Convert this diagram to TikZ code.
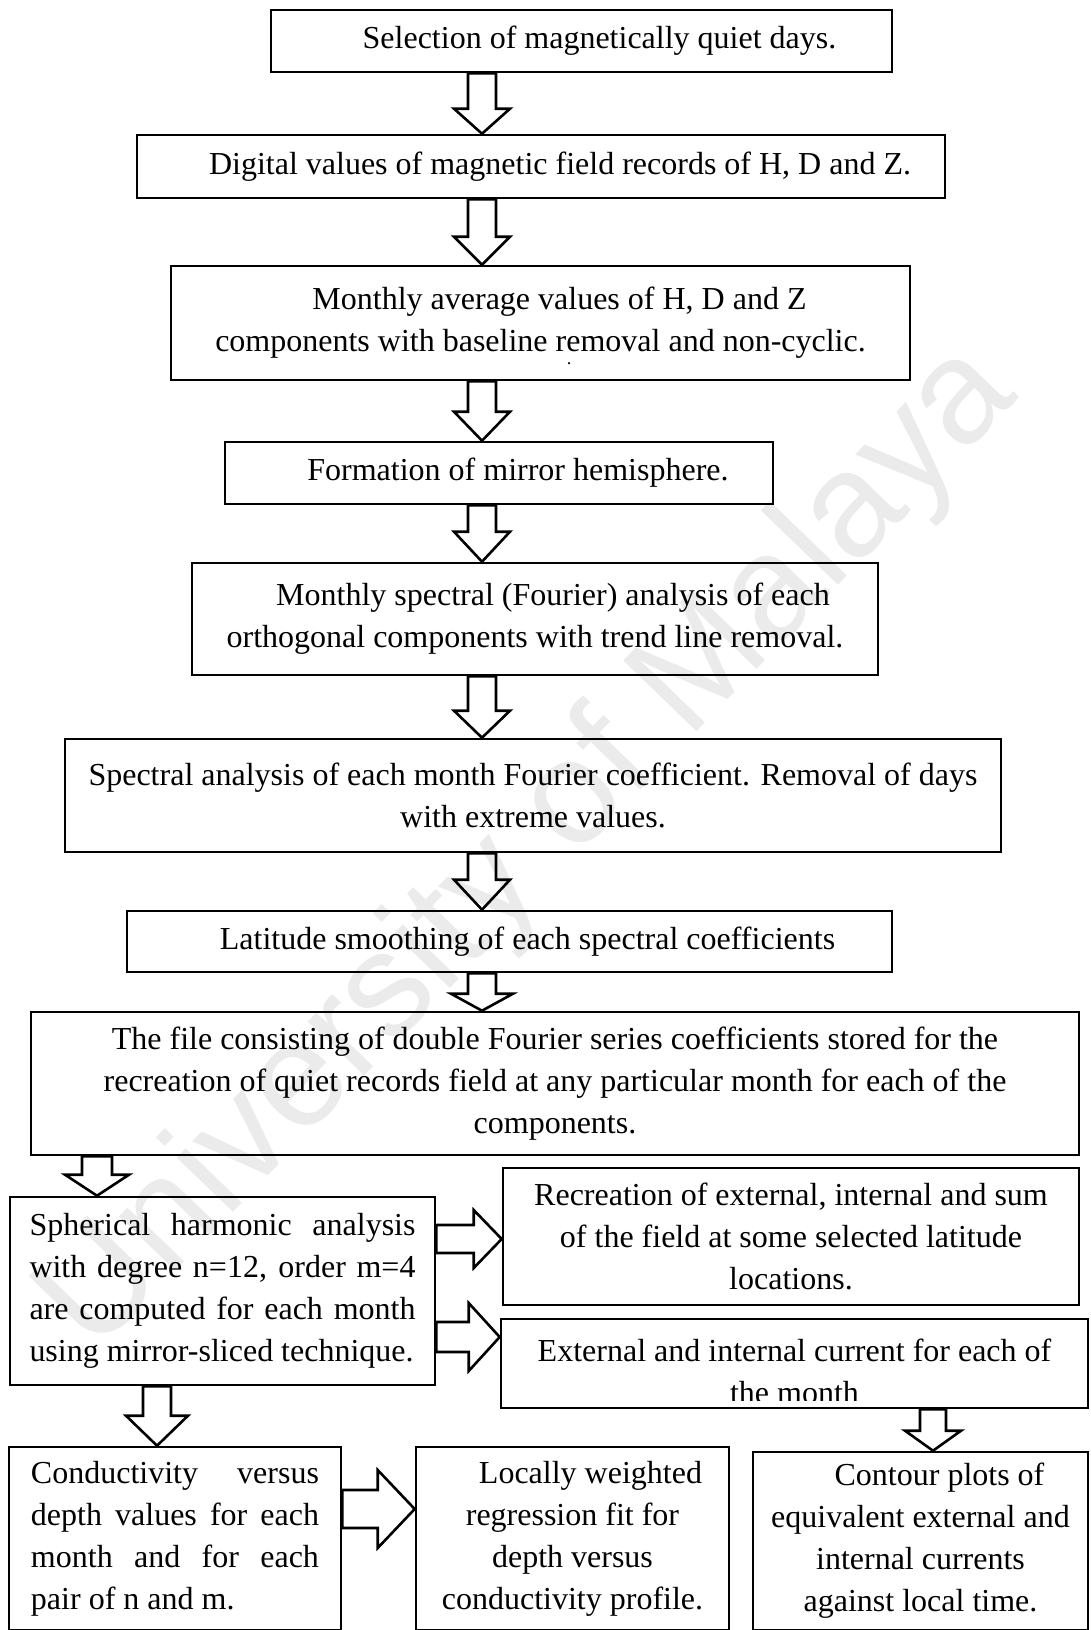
\documentclass[tikz,border=0pt]{standalone}
\usepackage{fontspec}
\setmainfont{Liberation Serif}
\newfontfamily\wmfont{Liberation Sans}
\usepackage{tikz}
\usetikzlibrary{calc}
\newcommand\jline[2]{\makebox[#1][s]{\spaceskip=0pt\relax#2}}
\newcommand\lline[2]{\makebox[#1][l]{\spaceskip=0pt\relax#2}}

\begin{document}
\begin{tikzpicture}[x=0.5pt, y=-0.5pt,
    box/.style={draw, line width=1.3pt, inner sep=0pt, align=center,
                font=\fontsize{16}{21}\selectfont},
    txt/.style={inner sep=0pt, align=center, font=\fontsize{16}{21}\selectfont},
    asize/.code args={#1/#2/#3}{\def\asw{#1}\def\ahw{#2}\def\ahl{#3}},
    downarr/.style={draw, line width=1.3pt, line join=miter, asize=7pt/14pt/14pt,
      to path={let \p1=(\tikztostart), \p2=(\tikztotarget) in
        (\x1-\asw,\y1) -- (\x1-\asw,\y2+\ahl) -- (\x1-\ahw,\y2+\ahl) -- (\x1,\y2)
        -- (\x1+\ahw,\y2+\ahl) -- (\x1+\asw,\y2+\ahl) -- (\x1+\asw,\y1) -- cycle}},
    rightarr/.style={draw, line width=1.3pt, line join=miter, asize=7pt/14pt/14pt,
      to path={let \p1=(\tikztostart), \p2=(\tikztotarget) in
        (\x1,\y1+\asw) -- (\x2-\ahl,\y1+\asw) -- (\x2-\ahl,\y1+\ahw) -- (\x2,\y1)
        -- (\x2-\ahl,\y1-\ahw) -- (\x2-\ahl,\y1-\asw) -- (\x1,\y1-\asw) -- cycle}}
  ]
  \useasboundingbox (0,0) rectangle (1091,1630);
  \node[rotate=46, text=black!8, font=\wmfont\fontsize{74}{74}\selectfont] (wm) at (530,850) {University of Malaya};

  \node[box, minimum width=310.5pt, minimum height=31pt] (b1) at (581.5,41)
    {\hspace*{18pt}Selection of magnetically quiet days.};
  \node[box, minimum width=404pt, minimum height=31.5pt] (b2) at (541,166.5)
    {\hspace*{19pt}Digital values of magnetic field records of H, D and Z.};
  \node[box, minimum width=369.5pt, minimum height=57pt] (b3) at (540.5,323)
    {\hspace*{19pt}Monthly average values of H, D and Z\\components with baseline removal and non-cyclic.};
  \node[inner sep=0pt, font=\fontsize{9}{9}\selectfont] (dot) at (569,364) {.};
  \node[box, minimum width=274pt, minimum height=31pt] (b4) at (499,473)
    {\hspace*{19pt}Formation of mirror hemisphere.};
  \node[box, minimum width=343pt, minimum height=56pt] (b5) at (535,619)
    {\hspace*{18pt}Monthly spectral (Fourier) analysis of each\\orthogonal components with trend line removal.};
  \node[box, minimum width=468pt, minimum height=56.5pt] (b6) at (533,795.5)
    {Spectral analysis of each month Fourier coefficient. Removal of days\\with extreme values.};
  \node[box, minimum width=382.5pt, minimum height=30.5pt] (b7) at (509.5,941.5)
    {\hspace*{18pt}Latitude smoothing of each spectral coefficients};
  \node[box, minimum width=524pt, minimum height=71.5pt] (b8) at (555,1083.5)
    {The file consisting of double Fourier series coefficients stored for the\\recreation of quiet records field at any particular month for each of the\\components.};
  \node[box, minimum width=212.5pt, minimum height=94pt, text width=193pt, align=left] (b9) at (222.5,1291)
    {\jline{193pt}{Spherical harmonic analysis}\\\jline{193pt}{with degree n=12, order m=4}\\
     \jline{193pt}{are computed for each month}\\\lline{193pt}{using mirror-sliced technique.}};
  \node[box, minimum width=288pt, minimum height=68.5pt] (b10) at (791,1236.5)
    {Recreation of external, internal and sum\\of the field at some selected latitude\\locations.};
  \node[box, minimum width=293.5pt, minimum height=44.5pt] (b11) at (794.5,1363.5) {};
  \begin{scope}
    \clip (b11.north west) rectangle ([yshift=4.5pt]b11.south east);
    \node[txt] (t11) at (794.5,1371) {External and internal current for each of\\the month};
  \end{scope}
  \node[box, minimum width=166pt, minimum height=91.5pt, text width=144pt, align=left] (b12) at (175,1538.5)
    {\jline{144pt}{Conductivity versus}\\\jline{144pt}{depth values for each}\\
     \jline{144pt}{month and for each}\\\lline{144pt}{pair of n and m.}};
  \node[box, minimum width=156.5pt, minimum height=91.5pt] (b13) at (572.5,1538.5)
    {\hspace*{18pt}Locally weighted\\regression fit for\\depth versus\\conductivity profile.};
  \node[box, minimum width=167.5pt, minimum height=89pt] (b14) at (920.5,1541)
    {\hspace*{19pt}Contour plots of\\equivalent external and\\internal currents\\against local time.};

  \coordinate (mid) at (482,0);
  \coordinate (lcol) at (97,0);
  \coordinate (scol) at (157,0);
  \coordinate (rcol) at (933,0);
  \coordinate (r1) at (0,1239);
  \coordinate (r2) at (0,1337);
  \coordinate (r3) at (0,1509);

  \draw[downarr, asize=7pt/14pt/12.5pt] (b1.south -| mid) to (b2.north -| mid);
  \draw[downarr] (b2.south -| mid) to (b3.north -| mid);
  \draw[downarr, asize=7pt/14pt/14.5pt] (b3.south -| mid) to (b4.north -| mid);
  \draw[downarr, asize=7pt/14pt/15pt] (b4.south -| mid) to (b5.north -| mid);
  \draw[downarr, asize=7pt/14pt/13.5pt] (b5.south -| mid) to (b6.north -| mid);
  \draw[downarr, asize=7pt/14pt/15pt] (b6.south -| mid) to (b7.north -| mid);
  \draw[downarr, asize=7pt/15.5pt/8.5pt] (b7.south -| mid) to (b8.north -| mid);
  \draw[downarr, asize=7.5pt/16pt/10.5pt] (b8.south -| lcol) to (b9.north -| lcol);
  \draw[downarr, asize=7pt/15.5pt/15pt] (b9.south -| scol) to (b12.north -| scol);
  \draw[downarr, asize=6.5pt/14pt/10pt] (b11.south -| rcol) to (b14.north -| rcol);
  \draw[rightarr, asize=7pt/14.5pt/14pt] (b9.east |- r1) to (b10.west |- r1);
  \draw[rightarr, asize=7.5pt/17pt/15.5pt] (b9.east |- r2) to (b11.west |- r2);
  \draw[rightarr, asize=9.5pt/19.5pt/18.5pt] (b12.east |- r3) to (b13.west |- r3);
\end{tikzpicture}
\end{document}
